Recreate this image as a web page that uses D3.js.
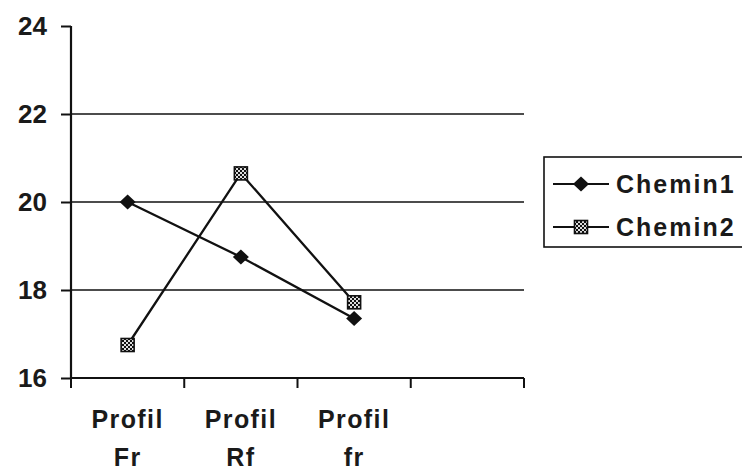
<!DOCTYPE html>
<html>
<head>
<meta charset="utf-8">
<script src="https://cdn.jsdelivr.net/npm/d3@7"></script>
<style>
  html, body { margin: 0; padding: 0; background: #fff; }
  svg { display: block; font-family: "Liberation Sans", Arial, sans-serif; font-weight: bold; }
</style>
</head>
<body>
<svg id="chart" width="742" height="472"></svg>
<script>
// Categories along the x axis (the last slot is left empty)
const categories = ["Profil Fr", "Profil Rf", "Profil fr"];
const seriesNames = ["Chemin1", "Chemin2"];
const chemin1 = [20.0, 18.75, 17.35];
const chemin2 = [16.75, 20.65, 17.72];
const yTicks = [16, 18, 20, 22, 24];
const gridValues = [18, 20, 22];

const svg = d3.select("#chart");

// Checkered fill for the square markers
const defs = svg.append("defs");
const pat = defs.append("pattern")
  .attr("id", "checker")
  .attr("width", 4).attr("height", 4)
  .attr("patternUnits", "userSpaceOnUse");
pat.append("rect").attr("width", 4).attr("height", 4).attr("fill", "#111");
pat.append("rect").attr("x", 0).attr("y", 0).attr("width", 2).attr("height", 2).attr("fill", "#ddd");
pat.append("rect").attr("x", 2).attr("y", 2).attr("width", 2).attr("height", 2).attr("fill", "#ddd");

const plotLeft = 71, plotRight = 524, plotTop = 26, plotBottom = 378;

const x = d3.scaleBand()
  .domain(categories.concat(["_"]))
  .range([plotLeft, plotRight])
  .padding(0);

const y = d3.scaleLinear()
  .domain([16, 24])
  .range([plotBottom, plotTop]);

// Horizontal gridlines
svg.append("g")
  .selectAll("line")
  .data(gridValues)
  .join("line")
  .attr("x1", plotLeft).attr("x2", plotRight)
  .attr("y1", d => y(d)).attr("y2", d => y(d))
  .attr("stroke", "#111").attr("stroke-width", 1.7);

// Y axis
const yAxis = svg.append("g")
  .attr("transform", `translate(${plotLeft},0)`)
  .call(d3.axisLeft(y).tickValues(yTicks).tickSize(10).tickPadding(14).tickFormat(d3.format("d")));
yAxis.select(".domain").attr("stroke", "#111").attr("stroke-width", 2.2).attr("d", `M0,${plotTop}V${plotBottom}`);
yAxis.selectAll(".tick line").attr("stroke", "#111").attr("stroke-width", 2);
yAxis.selectAll(".tick text")
  .attr("font-size", 26).attr("font-weight", "bold").attr("fill", "#1a1a1a")
  .attr("font-family", "Liberation Sans, Arial, sans-serif");

// X axis: ticks at band boundaries
const xBounds = x.domain().map(d => x(d)).concat([plotRight]);
const xAxis = svg.append("g");
xAxis.append("line")
  .attr("x1", plotLeft).attr("x2", plotRight)
  .attr("y1", plotBottom).attr("y2", plotBottom)
  .attr("stroke", "#111").attr("stroke-width", 2.2);
xAxis.selectAll("line.tk")
  .data(xBounds)
  .join("line")
  .attr("class", "tk")
  .attr("x1", d => d).attr("x2", d => d)
  .attr("y1", plotBottom).attr("y2", plotBottom + 10)
  .attr("stroke", "#111").attr("stroke-width", 2);

// Two-line category labels
const labels = svg.append("g")
  .selectAll("text")
  .data(categories)
  .join("text")
  .attr("text-anchor", "middle")
  .attr("font-size", 25)
  .attr("letter-spacing", 1.4)
  .attr("fill", "#1a1a1a");
labels.each(function(d) {
  const parts = d.split(" ");
  const cx = x(d) + x.bandwidth() / 2;
  d3.select(this).selectAll("tspan")
    .data(parts)
    .join("tspan")
    .attr("x", cx)
    .attr("y", (p, i) => 428 + i * 38)
    .text(p => p);
});

const line = d3.line()
  .x((d, i) => x(categories[i]) + x.bandwidth() / 2)
  .y(d => y(d));

const diamond = "M0,-7.5L8,0L0,7.5L-8,0Z";

// Chemin1 line and diamond markers
svg.append("path")
  .datum(chemin1)
  .attr("d", line)
  .attr("fill", "none").attr("stroke", "#111").attr("stroke-width", 2.3);
svg.append("g")
  .selectAll("path")
  .data(chemin1)
  .join("path")
  .attr("d", diamond)
  .attr("transform", (d, i) => `translate(${x(categories[i]) + x.bandwidth() / 2},${y(d)})`)
  .attr("fill", "#111");

// Chemin2 line and square markers
svg.append("path")
  .datum(chemin2)
  .attr("d", line)
  .attr("fill", "none").attr("stroke", "#111").attr("stroke-width", 2.3);
svg.append("g")
  .selectAll("rect")
  .data(chemin2)
  .join("rect")
  .attr("x", (d, i) => x(categories[i]) + x.bandwidth() / 2 - 6.5)
  .attr("y", d => y(d) - 6.5)
  .attr("width", 13).attr("height", 13)
  .attr("fill", "url(#checker)")
  .attr("stroke", "#111").attr("stroke-width", 1.6);

// Legend
const legend = svg.append("g");
legend.append("rect")
  .attr("x", 544).attr("y", 157)
  .attr("width", 220).attr("height", 90)
  .attr("fill", "#fff").attr("stroke", "#111").attr("stroke-width", 1.6);

const rowY = [184, 227];
seriesNames.forEach((name, i) => {
  const g = legend.append("g").attr("transform", `translate(0,${rowY[i]})`);
  g.append("line")
    .attr("x1", 553).attr("x2", 609).attr("y1", 0).attr("y2", 0)
    .attr("stroke", "#111").attr("stroke-width", 2.2);
  if (i === 0) {
    g.append("path").attr("d", diamond).attr("transform", "translate(581,0)").attr("fill", "#111");
  } else {
    g.append("rect")
      .attr("x", 574.5).attr("y", -6.5).attr("width", 13).attr("height", 13)
      .attr("fill", "url(#checker)").attr("stroke", "#111").attr("stroke-width", 1.6);
  }
  g.append("text")
    .attr("x", 616).attr("y", 0)
    .attr("dy", "0.36em")
    .attr("font-size", 25)
    .attr("letter-spacing", 2)
    .attr("fill", "#1a1a1a")
    .text(name);
});
</script>
</body>
</html>
